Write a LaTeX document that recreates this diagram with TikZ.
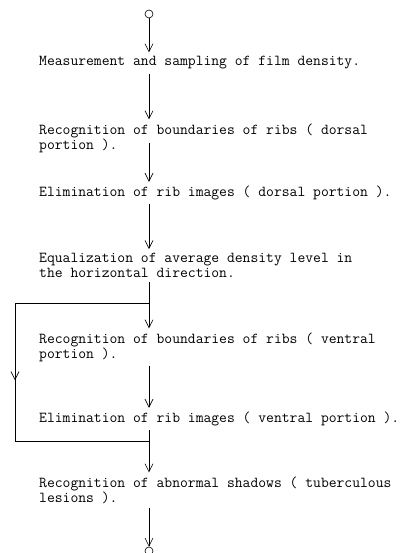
\documentclass[tikz,border=0pt]{standalone}
\usepackage{fontspec}
\usetikzlibrary{positioning}
\usetikzlibrary{arrows.meta}
\usetikzlibrary{calc}
\tikzset{
stage/.style={ % typed text of each processing step
anchor=west,
align=left,
inner sep=0pt,
font=\ttfamily\fontsize{15.2}{15}\selectfont},
terminal/.style={ % small open circle at start and end
draw,
circle,
minimum size=8pt,
inner sep=0pt,
line width=0.6pt},
flow/.style={ % vertical flow arrows with open heads
draw,
line width=0.6pt,
shorten >=4pt,
shorten <=4pt,
-{Straight Barb[length=8pt,width=8pt]}},
bypass/.style={ % the loop round the ventral steps
draw,
line width=0.6pt}}

\begin{document}
\begin{tikzpicture}[x=1pt,y=-1pt]
\useasboundingbox (0,0) rectangle (408,553);
\node[terminal] (start) at (149,14) {};
\node[stage] (meas) at (39,63) {Measurement and sampling of film density.};
\node[stage] (dorsalb) at (39,138) {Recognition of boundaries of ribs ( dorsal\\portion ).};
\node[stage] (dorsale) at (39,193) {Elimination of rib images ( dorsal portion ).};
\node[stage] (equal) at (39,265.5) {Equalization of average density level in\\the horizontal direction.};
\node[stage] (ventralb) at (39,347) {Recognition of boundaries of ribs ( ventral\\portion ).};
\node[stage] (ventrale) at (39,419) {Elimination of rib images ( ventral portion ).};
\node[stage] (lesion) at (39,490) {Recognition of abnormal shadows ( tuberculous\\lesions ).};
\node[terminal] (stop) at (149,551) {};
\coordinate (loopin) at (15,303);
\coordinate (loopout) at (15,441);
\draw[flow, shorten <=0pt] (start) -- (start |- meas.north);
\draw[flow] (start |- meas.south) -- (start |- dorsalb.north);
\draw[flow] ($(start |- dorsalb.south)+(0,14pt)$) -- (start |- dorsale.north);
\draw[flow] (start |- dorsale.south) -- (start |- equal.north);
\draw[flow] (start |- equal.south) -- (start |- ventralb.north);
\draw[flow] (start |- ventralb.south) -- (start |- ventrale.north);
\draw[flow] (start |- ventrale.south) -- (start |- lesion.north);
\draw[flow, shorten >=0pt] (start |- lesion.south) -- (stop);
\draw[bypass] (start |- loopin) -- (loopin) -- (loopout) -- (start |- loopout);
\draw[flow, shorten <=0pt, shorten >=0pt] (loopin) -- ($(loopin)!0.56!(loopout)$);
\end{tikzpicture}
\end{document}
